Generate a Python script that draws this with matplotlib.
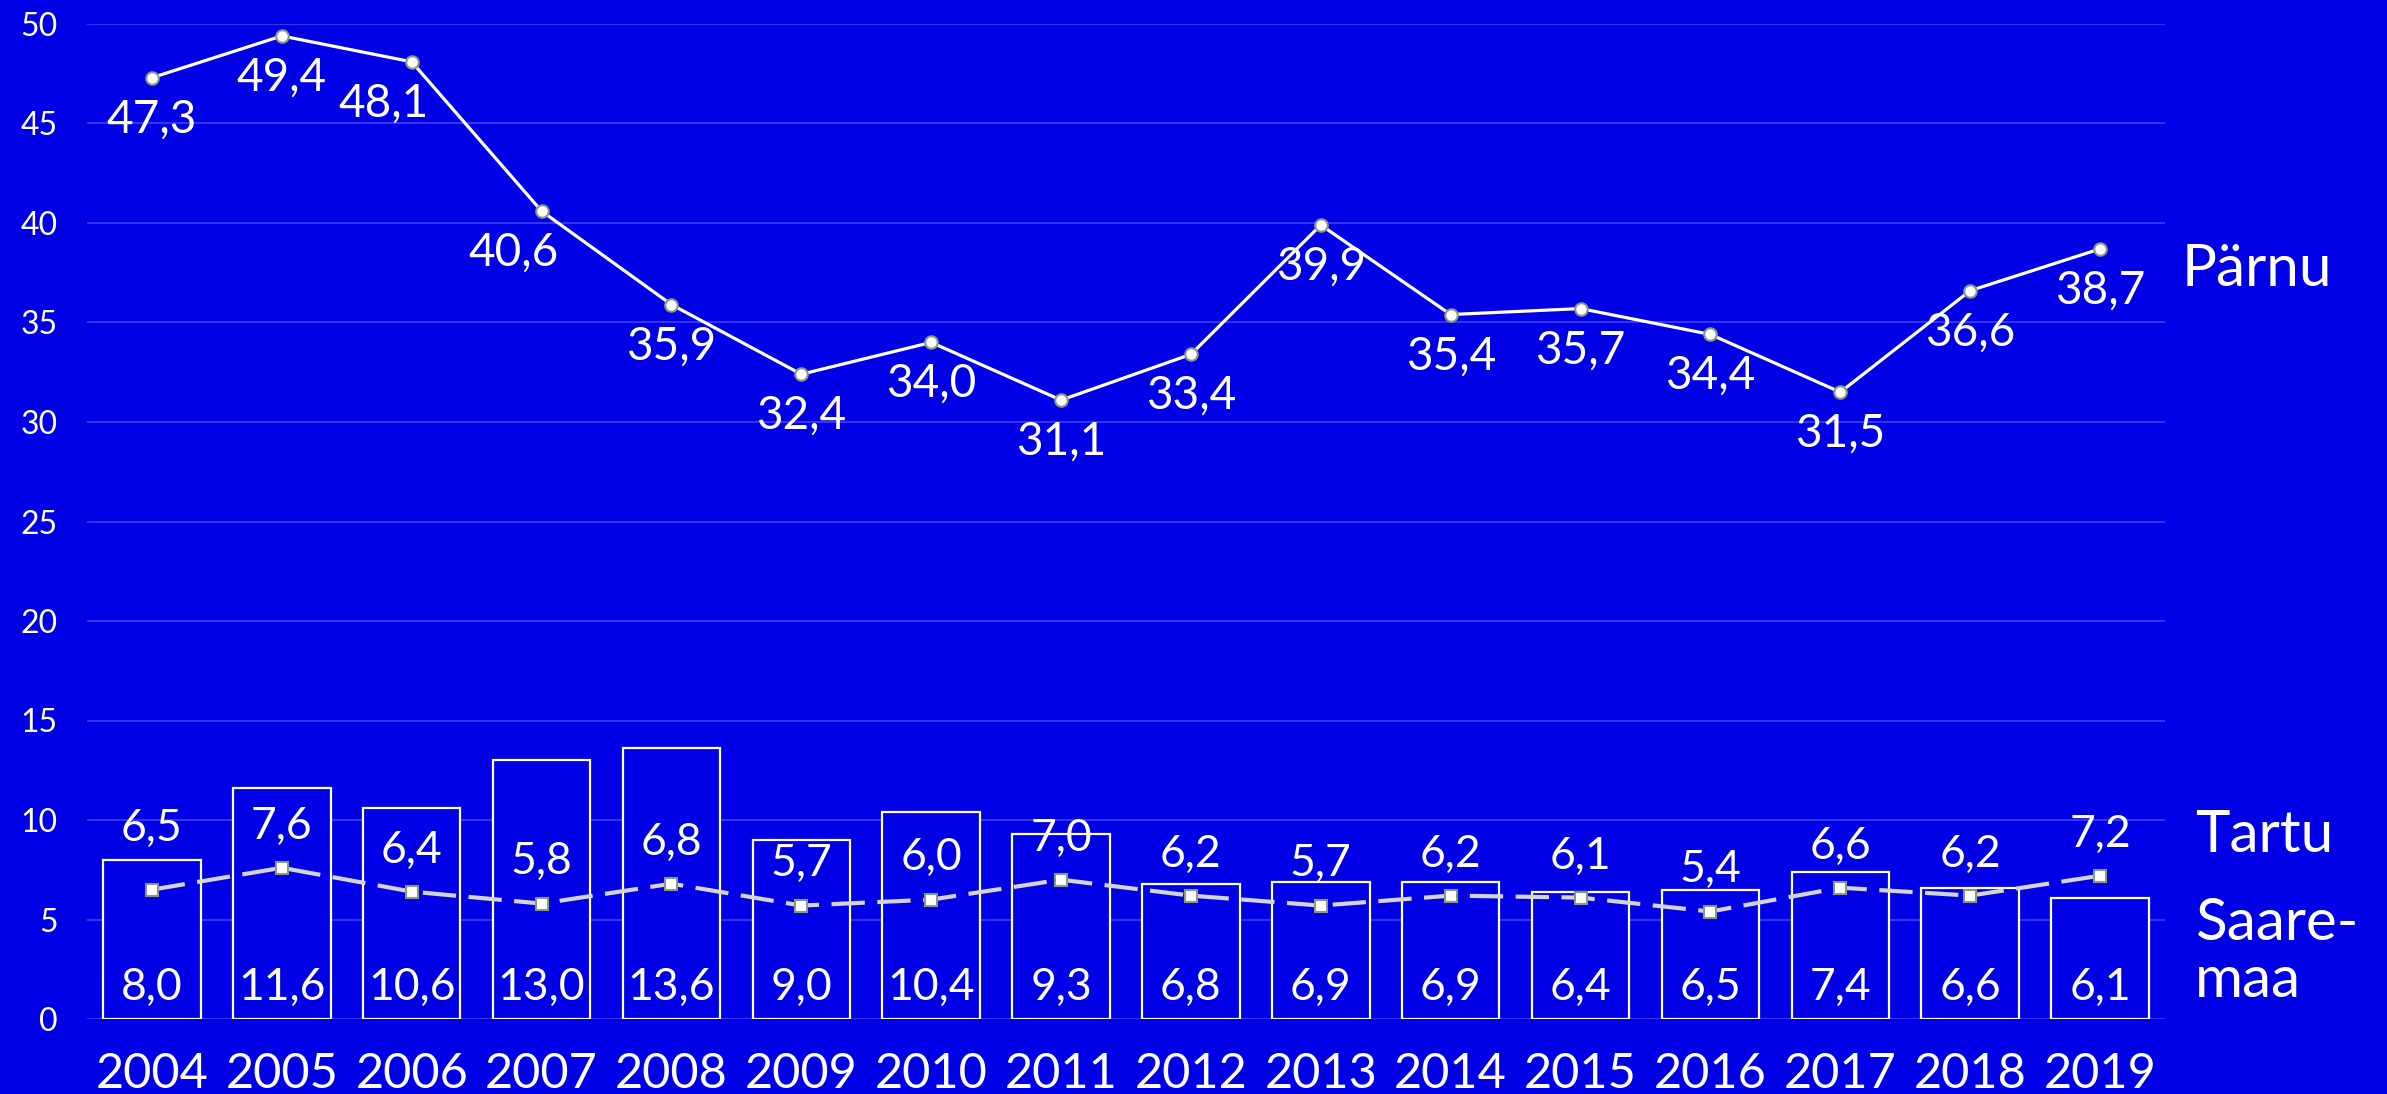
import matplotlib
matplotlib.use("Agg")
import matplotlib.pyplot as plt
import numpy as np

years = ["2004", "2005", "2006", "2007", "2008", "2009", "2010", "2011",
         "2012", "2013", "2014", "2015", "2016", "2017", "2018", "2019"]
parnu = [47.3, 49.4, 48.1, 40.6, 35.9, 32.4, 34.0, 31.1, 33.4, 39.9, 35.4,
         35.7, 34.4, 31.5, 36.6, 38.7]
tartu = [6.5, 7.6, 6.4, 5.8, 6.8, 5.7, 6.0, 7.0, 6.2, 5.7, 6.2, 6.1, 5.4,
         6.6, 6.2, 7.2]
saaremaa = [8.0, 11.6, 10.6, 13.0, 13.6, 9.0, 10.4, 9.3, 6.8, 6.9, 6.9, 6.4,
            6.5, 7.4, 6.6, 6.1]
yticks = [0, 5, 10, 15, 20, 25, 30, 35, 40, 45, 50]
series_names = ["Pärnu", "Tartu", "Saare-\nmaa"]

BG = "#0000E6"
GRID = "#3a3aff"
FONT = "Lato"

def fmt(v):
    return f"{v:.1f}".replace(".", ",")

fig = plt.figure(figsize=(23.87, 10.94), dpi=100, facecolor=BG)
ax = fig.add_axes([87 / 2387, 1 - 1019 / 1094, (2165 - 87) / 2387, (1019 - 24) / 1094])
ax.set_facecolor(BG)
x = np.arange(len(years))

ax.set_xlim(-0.5, len(years) - 0.5)
ax.set_ylim(0, 50)
ax.set_yticks(yticks)
ax.set_yticklabels([str(t) for t in yticks], fontsize=23, color="white", family=FONT)
ax.set_xticks(x)
ax.set_xticklabels(years, fontsize=35, color="white", family=FONT)
ax.tick_params(axis="both", length=0)
ax.tick_params(axis="x", pad=24)
ax.tick_params(axis="y", pad=21)
for s in ax.spines.values():
    s.set_visible(False)
ax.yaxis.grid(True, color=GRID, lw=1.3, zorder=0)
ax.set_axisbelow(True)

# Saaremaa bars
ax.bar(x, saaremaa, width=0.75, facecolor=BG, edgecolor="white", lw=1.6, zorder=2)
for xi, v in zip(x, saaremaa):
    ax.annotate(fmt(v), (xi, 0), xytext=(0, 23), textcoords="offset points",
                ha="center", va="center", fontsize=32, color="white", family=FONT, zorder=5)

# Tartu dashed line
ax.plot(x, tartu, color="#d4d4d4", lw=3, dashes=(8, 3), marker="s", markersize=9,
        markerfacecolor="white", markeredgecolor="#8a9a80", markeredgewidth=1.5, zorder=3)
for i, (xi, v) in enumerate(zip(x, tartu)):
    off = 44 if i == 0 else 30
    ax.annotate(fmt(v), (xi, v), xytext=(0, off), textcoords="offset points",
                ha="center", va="center", fontsize=32, color="white", family=FONT, zorder=5)

# Pärnu line
ax.plot(x, parnu, color="white", lw=2.3, marker="o", markersize=9,
        markerfacecolor="white", markeredgecolor="#8a9a80", markeredgewidth=1.5, zorder=4)
for i, (xi, v) in enumerate(zip(x, parnu)):
    dx = -20 if i in (2, 3) else 0
    ax.annotate(fmt(v), (xi, v), xytext=(dx, -30), textcoords="offset points",
                ha="center", va="center", fontsize=33, color="white", family=FONT, zorder=5)

# Series names at right
fig.text(2182 / 2387, 1 - 270 / 1094, series_names[0], fontsize=42, color="white",
         family=FONT, ha="left", va="center")
fig.text(2195 / 2387, 1 - 835 / 1094, series_names[1], fontsize=42, color="white",
         family=FONT, ha="left", va="center")
fig.text(2195 / 2387, 1 - 952 / 1094, series_names[2], fontsize=42, color="white",
         family=FONT, ha="left", va="center", linespacing=1.1)

fig.savefig("out.png", dpi=100, facecolor=BG)
